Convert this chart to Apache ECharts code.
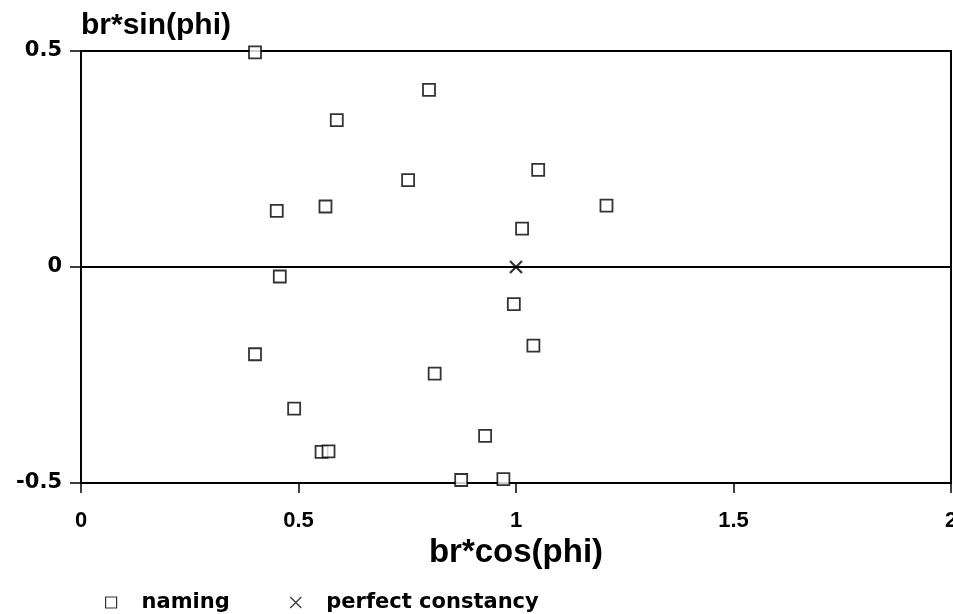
<!DOCTYPE html>
<html>
<head>
<meta charset="utf-8">
<script src="https://cdn.jsdelivr.net/npm/echarts@6/dist/echarts.min.js"></script>
<style>
html,body{margin:0;padding:0;background:#fff;}
#c{width:953px;height:614px;}
</style>
</head>
<body>
<div id="c"></div>
<script>
var namingX = [0.40, 0.80, 0.588, 0.752, 1.051, 0.450, 0.562, 1.208, 1.014, 0.457, 0.995, 1.040, 0.400, 0.813, 0.490, 0.929, 0.553, 0.569, 0.874, 0.971];
var namingY = [0.497, 0.410, 0.340, 0.201, 0.225, 0.130, 0.140, 0.142, 0.089, -0.022, -0.086, -0.182, -0.202, -0.247, -0.328, -0.391, -0.428, -0.427, -0.493, -0.491];
var perfectX = [1];
var perfectY = [0];
var xTicks = [0, 0.5, 1, 1.5, 2];
var yTicks = [-0.5, 0, 0.5];

var namingData = namingX.map(function (v, i) { return [v, namingY[i]]; });
var perfectData = perfectX.map(function (v, i) { return [v, perfectY[i]]; });

var FONT = 'Liberation Sans';
var WIDE = 'DejaVu Sans';
var XPATH = 'path://M0,0L10,10M10,0L0,10';
var chart = echarts.init(document.getElementById('c'));
chart.setOption({
  animation: false,
  backgroundColor: '#fff',
  grid: {left: 81, right: 2, top: 51, bottom: 131, containLabel: false, outerBoundsMode: 'none',
    show: true, borderColor: '#000', borderWidth: 2, backgroundColor: 'transparent'},
  xAxis: {
    type: 'value', min: 0, max: 2, interval: 0.5,
    name: 'br*cos(phi)', nameLocation: 'middle', nameGap: 44,
    nameTextStyle: {fontFamily: FONT, fontWeight: 'bold', fontSize: 33, color: '#000'},
    axisLine: {show: true, onZero: false, lineStyle: {color: '#000', width: 2}},
    axisTick: {show: true, length: 10, inside: false, lineStyle: {color: '#000', width: 1.5}},
    axisLabel: {margin: 27, fontFamily: FONT, fontWeight: 'bold', fontSize: 22, color: '#000',
      showMaxLabel: true, showMinLabel: true,
      formatter: function (v) { return xTicks.indexOf(v) >= 0 ? String(v) : ''; }},
    splitLine: {show: false}
  },
  yAxis: {
    type: 'value', min: -0.5, max: 0.5, interval: 0.5,
    name: 'br*sin(phi)', nameLocation: 'end', nameGap: 10,
    nameTextStyle: {fontFamily: FONT, fontWeight: 'bold', fontSize: 30, color: '#000', align: 'left', verticalAlign: 'bottom'},
    axisLine: {show: true, onZero: false, lineStyle: {color: '#000', width: 2}},
    axisTick: {show: true, length: 11, lineStyle: {color: '#000', width: 1.5}},
    axisLabel: {margin: 19, fontFamily: WIDE, fontWeight: 'bold', fontSize: 21, color: '#000',
      formatter: function (v) { return yTicks.indexOf(v) >= 0 ? String(v) : ''; }},
    splitLine: {show: false}
  },
  legend: {
    left: 100, top: 587, itemWidth: 11, itemHeight: 11, itemGap: 58,
    textStyle: {fontFamily: WIDE, fontWeight: 'bold', fontSize: 21, color: '#000', padding: [0, 0, 0, 20]},
    data: [
      {name: 'naming', icon: 'rect', itemStyle: {color: '#fff', borderColor: '#000', borderWidth: 1.2}},
      {name: 'perfect constancy', icon: XPATH, itemStyle: {color: 'none', borderColor: '#000', borderWidth: 1.2}}
    ]
  },
  series: [
    {
      name: 'naming', type: 'scatter', data: namingData,
      symbol: 'rect', symbolSize: 12,
      itemStyle: {color: '#fff', borderColor: '#000', borderWidth: 1.8},
      markLine: {
        silent: true, symbol: ['none', 'none'], label: {show: false},
        lineStyle: {color: '#000', width: 1.8, type: 'solid'},
        data: [{yAxis: 0}]
      },
      z: 3
    },
    {
      name: 'perfect constancy', type: 'scatter', data: perfectData,
      symbol: XPATH, symbolSize: 12,
      itemStyle: {color: 'none', borderColor: '#000', borderWidth: 2.2},
      z: 4
    }
  ]
});
</script>
</body>
</html>
